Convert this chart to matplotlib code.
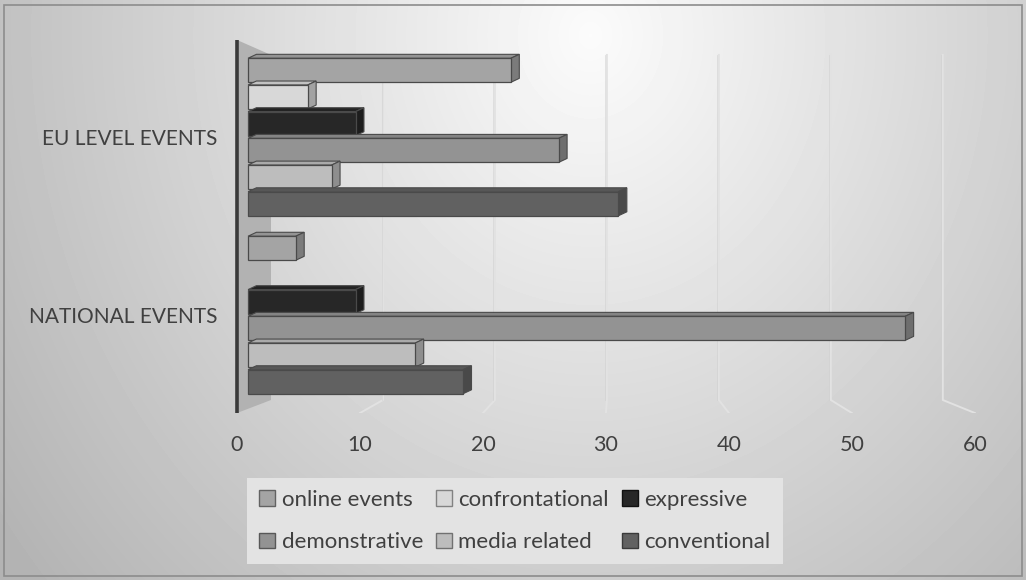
import numpy as np
import matplotlib
matplotlib.use("Agg")
import matplotlib.pyplot as plt
from matplotlib.patches import Polygon, Patch, Rectangle
from matplotlib.colors import to_rgb

plt.rcParams['font.family'] = ['Lato', 'DejaVu Sans']

groups = ['NATIONAL EVENTS', 'EU LEVEL EVENTS']
series = ['online events', 'confrontational', 'expressive',
          'demonstrative', 'media related', 'conventional']
national = [4, 0, 9, 55, 14, 18]
eu_level = [22, 5, 9, 26, 7, 31]
colors = ['#a4a4a4', '#d8d8d8', '#272727', '#939393', '#bdbdbd', '#616161']
ticks = [0, 10, 20, 30, 40, 50, 60]

W, H = 1026, 580
fig = plt.figure(figsize=(W / 100, H / 100), dpi=100)
fig.patch.set_facecolor('white')

# soft radial background, brightest near the top middle
bg = fig.add_axes([0, 0, 1, 1], zorder=-5)
yy, xx = np.mgrid[0:H, 0:W]
r = np.sqrt(((xx - 590) / 610.0) ** 2 + ((yy - 35) / 700.0) ** 2)
shade = np.clip(0.985 - 0.235 * r, 0.7, 1.0)
bg.imshow(shade, cmap='gray', vmin=0, vmax=1, extent=(0, W, H, 0), aspect='auto')
bg.set_xlim(0, W)
bg.set_ylim(H, 0)
bg.axis('off')
bg.add_patch(Rectangle((4, 5), W - 8, H - 9, fill=False, edgecolor='#8c8c8c', lw=1.2))

ax = fig.add_axes([230 / W, (H - 413) / H, 760 / W, 373 / H])
ax.patch.set_visible(False)
for s in ax.spines.values():
    s.set_visible(False)
ax.set_xlim(-1.51, 62.09)
ax.set_ylim(-0.551, 1.545)

# perspective: back wall scale vs front floor edge
back = lambda v: 1.92 + 0.937 * v
front = lambda v: -0.92 + 1.029 * v
y_top, y_back, y_front = 1.461, -0.478, -0.551

for v in ticks[1:]:
    ax.plot([back(v), back(v), front(v)], [y_top, y_back, y_front],
            color='#e2e2e2', lw=1.4, zorder=1)
    ax.plot([back(v) - 0.12, back(v) - 0.12], [y_top, y_back],
            color='#cfcfcf', lw=0.6, alpha=0.6, zorder=1)

# side wall at zero
ax.add_patch(Polygon([(front(0), 1.545), (back(0), y_top), (back(0), y_back), (front(0), y_front)],
                     closed=True, facecolor='#b2b2b2', edgecolor='none', zorder=2))
ax.plot([front(0), front(0)], [1.545, y_front], color='#3a3a3a', lw=2.6,
        solid_capstyle='round', zorder=6)

h = 0.15
face_h = 0.135
dx, dy = 0.7, 0.022


def shade_col(c, f):
    return tuple(min(1, x * f) for x in to_rgb(c))


for g, vals in [(1, eu_level), (0, national)]:
    for i, (v, c) in enumerate(zip(vals, colors)):
        if v <= 0:
            continue
        yc = g + (2.5 - i) * h
        yb, yt = yc - face_h / 2, yc + face_h / 2
        z = 3 + 0.1 * i + g
        ax.add_patch(Polygon([(0, yt), (v, yt), (v + dx, yt + dy), (dx, yt + dy)],
                             closed=True, facecolor=shade_col(c, 0.9),
                             edgecolor='#4a4a4a', lw=0.8, zorder=z))
        ax.add_patch(Polygon([(v, yb), (v, yt), (v + dx, yt + dy), (v + dx, yb + dy)],
                             closed=True, facecolor=shade_col(c, 0.75),
                             edgecolor='#4a4a4a', lw=0.8, zorder=z))
        ax.barh(yc, v, height=face_h, left=0, color=c, edgecolor='#4a4a4a',
                lw=0.9, zorder=z + 0.05)

ax.set_xticks([front(v) for v in ticks], [str(v) for v in ticks])
ax.set_yticks([0, 1], groups)
ax.tick_params(axis='x', length=0, pad=16, labelsize=15.5, labelcolor='#404040')
ax.tick_params(axis='y', length=0, pad=9, labelsize=15, labelcolor='#404040')

handles = [Patch(facecolor=c, edgecolor=shade_col(c, 0.6) if c != '#272727' else '#111111', lw=1)
           for c in colors]
order = [0, 3, 1, 4, 2, 5]
leg = fig.legend([handles[k] for k in order], [series[k] for k in order],
                 loc='center', bbox_to_anchor=(515 / W, 1 - 521 / H), ncol=3,
                 frameon=True, facecolor='#e3e3e3', edgecolor='none', framealpha=1,
                 fancybox=False, fontsize=16, handlelength=0.7, handleheight=0.7,
                 handletextpad=0.3, columnspacing=0.6, labelspacing=1.0,
                 borderpad=0.55, borderaxespad=0)
for t in leg.get_texts():
    t.set_color('#404040')

fig.savefig('out.png', dpi=100)
